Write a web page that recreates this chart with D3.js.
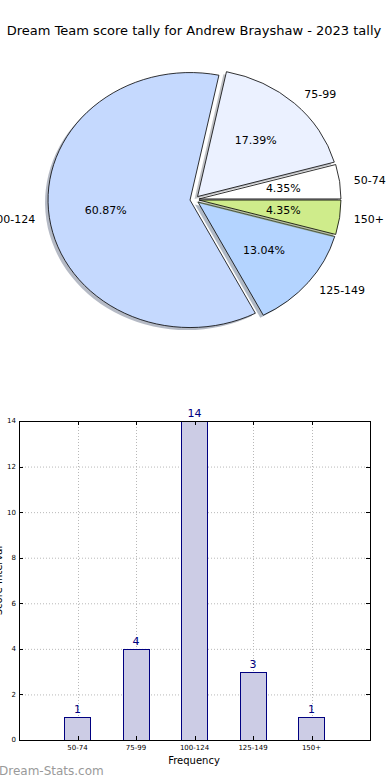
<!DOCTYPE html>
<html>
<head>
<meta charset="utf-8">
<script src="https://cdn.jsdelivr.net/npm/d3@7"></script>
<style>
body { margin:0; background:#fff; }
svg { display:block; font-family:"DejaVu Sans", sans-serif; }
</style>
</head>
<body>
<div class="wrap"></div>
<script>
const categories = ['50-74', '75-99', '100-124', '125-149', '150+']
const counts = [1, 4, 14, 3, 1]
const percentLabels = ['4.35%', '17.39%', '60.87%', '13.04%', '4.35%']
const sliceColors = ['#ffffff', '#ebf1ff', '#c5d9fe', '#b4d4ff', '#cfec8b']
const yTicks = [0, 2, 4, 6, 8, 10, 12, 14]

const width = 390, height = 780

const svg = d3.select('.wrap').append('svg')
.attr('width', width)
.attr('height', height)

svg.append('text')
.attr('x', 194)
.attr('y', 35)
.attr('text-anchor', 'middle')
.style('font-size', '13px')
.text('Dream Team score tally for Andrew Brayshaw - 2023 tally')

// ---- pie (elliptical, exploded, with shadow) ----
const cx = 194.5, cy = 199.5, rx = 142, ry = 127.5
const k = ry / rx
const explode = 4.5

const pie = d3.pie().sort(null)
.startAngle(Math.PI / 2)
.endAngle(Math.PI / 2 - 2 * Math.PI)

const arcs = pie(counts)
const arc = d3.arc().innerRadius(0).outerRadius(rx)

const pieG = svg.append('g').attr('transform', `translate(${cx},${cy})`)

arcs.forEach((d, i) => {
	const mid = (d.startAngle + d.endAngle) / 2
	const ox = Math.sin(mid) * explode
	const oy = -Math.cos(mid) * explode * k

	const g = pieG.append('g').attr('transform', `translate(${ox},${oy})`)

	g.append('path')
	.attr('transform', `translate(-3,2.5) scale(1,${k})`)
	.attr('d', arc(d))
	.style('fill', d3.rgb(sliceColors[i]).darker(1.7))
	.style('fill-opacity', 0.5)

	g.append('path')
	.attr('transform', `scale(1,${k})`)
	.attr('d', arc(d))
	.style('fill', sliceColors[i])
	.style('stroke', '#000')
	.style('stroke-width', 0.8)
	.attr('vector-effect', 'non-scaling-stroke')
	.style('stroke-linejoin', 'round')
})

arcs.forEach((d, i) => {
	const mid = (d.startAngle + d.endAngle) / 2
	const sx = Math.sin(mid), sy = -Math.cos(mid)
	const bx = cx + sx * explode, by = cy + sy * explode * k

	svg.append('text')
	.attr('x', bx + sx * rx * 1.1)
	.attr('y', by + sy * ry * 1.1)
	.attr('dy', '0.35em')
	.attr('text-anchor', sx > 0 ? 'start' : 'end')
	.style('font-size', '11px')
	.text(categories[i])

	svg.append('text')
	.attr('x', bx + sx * rx * 0.6)
	.attr('y', by + sy * ry * 0.6)
	.attr('dy', '0.35em')
	.attr('text-anchor', 'middle')
	.style('font-size', '11px')
	.text(percentLabels[i])
})

// ---- bar chart ----
const box = {left:19, right:370, top:421, bottom:740}

const xScale = d3.scaleLinear().domain([0, 6]).range([box.left, box.right])
const yScale = d3.scaleLinear().domain([0, 14]).range([box.bottom, box.top])
const barW = xScale(0.45) - xScale(0)

const grid = svg.append('g')
.style('stroke', '#b8b8b8')
.style('stroke-width', 1)
.style('stroke-dasharray', '1,2')

grid.selectAll('.hg')
.data(yTicks)
.enter()
.append('line')
.attr('x1', box.left).attr('x2', box.right)
.attr('y1', d => yScale(d) + 0.5).attr('y2', d => yScale(d) + 0.5)

grid.selectAll('.vg')
.data(categories)
.enter()
.append('line')
.attr('x1', (d, i) => Math.round(xScale(i + 1)) + 0.5)
.attr('x2', (d, i) => Math.round(xScale(i + 1)) + 0.5)
.attr('y1', box.top).attr('y2', box.bottom)

svg.selectAll('.bar')
.data(counts)
.enter()
.append('rect')
.attr('x', (d, i) => Math.round(xScale(i + 1) - barW / 2) + 0.5)
.attr('y', d => Math.round(yScale(d)) + 0.5)
.attr('width', Math.round(barW))
.attr('height', d => Math.round(yScale(0)) - Math.round(yScale(d)))
.style('fill', '#ccccE5')
.style('stroke', '#000080')
.style('stroke-width', 1)

svg.selectAll('.val')
.data(counts)
.enter()
.append('text')
.attr('x', (d, i) => xScale(i + 1))
.attr('y', d => yScale(d) - 4)
.attr('text-anchor', 'middle')
.style('font-size', '11px')
.style('fill', '#000080')
.text(d => d)

// frame
svg.append('rect')
.attr('x', box.left + 0.5)
.attr('y', box.top + 0.5)
.attr('width', box.right - box.left)
.attr('height', box.bottom - box.top)
.style('fill', 'none')
.style('stroke', '#000')

// ticks (inside, all four sides)
const ticks = svg.append('g').style('stroke', '#000').style('stroke-width', 1)
yTicks.forEach(t => {
	const y = Math.round(yScale(t)) + 0.5
	ticks.append('line').attr('x1', box.left).attr('x2', box.left + 4).attr('y1', y).attr('y2', y)
	ticks.append('line').attr('x1', box.right - 4).attr('x2', box.right).attr('y1', y).attr('y2', y)
})
categories.forEach((c, i) => {
	const x = Math.round(xScale(i + 1)) + 0.5
	ticks.append('line').attr('x1', x).attr('x2', x).attr('y1', box.bottom - 4).attr('y2', box.bottom)
	ticks.append('line').attr('x1', x).attr('x2', x).attr('y1', box.top).attr('y2', box.top + 4)
})

svg.selectAll('.ytl')
.data(yTicks)
.enter()
.append('text')
.attr('x', box.left - 3)
.attr('y', d => yScale(d))
.attr('dy', '0.35em')
.attr('text-anchor', 'end')
.style('font-size', '7px')
.text(d => d)

svg.selectAll('.xtl')
.data(categories)
.enter()
.append('text')
.attr('x', (d, i) => xScale(i + 1))
.attr('y', box.bottom + 10)
.attr('text-anchor', 'middle')
.style('font-size', '7px')
.text(d => d)

svg.append('text')
.attr('x', 194)
.attr('y', 764)
.attr('text-anchor', 'middle')
.style('font-size', '10px')
.text('Frequency')

svg.append('text')
.attr('transform', `translate(2,${(box.top + box.bottom) / 2}) rotate(-90)`)
.attr('text-anchor', 'middle')
.style('font-size', '10px')
.text('Score Interval')

svg.append('text')
.attr('x', -1)
.attr('y', 775)
.style('font-size', '12px')
.style('fill', '#9a9a9a')
.text('Dream-Stats.com')
</script>
</body>
</html>
